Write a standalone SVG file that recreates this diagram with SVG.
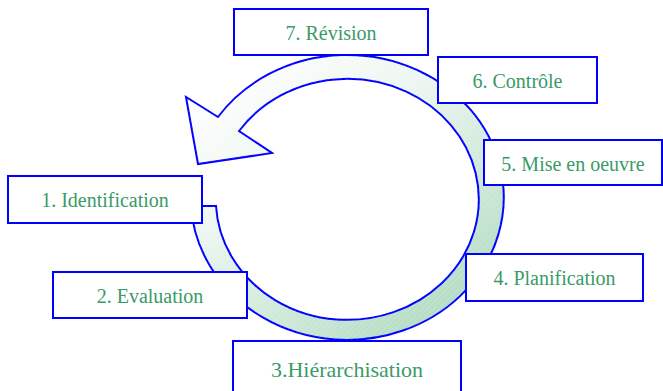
<svg xmlns="http://www.w3.org/2000/svg" width="663" height="391" viewBox="0 0 663 391">
<defs>
<linearGradient id="g" x1="0.1" y1="0.05" x2="0.85" y2="1">
<stop offset="0" stop-color="#ffffff"/>
<stop offset="0.35" stop-color="#edf6f0"/>
<stop offset="0.75" stop-color="#c6e5d2"/>
<stop offset="1" stop-color="#acd8bd"/>
</linearGradient>
<pattern id="h" width="4" height="4" patternUnits="userSpaceOnUse" patternTransform="rotate(45)">
<line x1="0" y1="0" x2="0" y2="4" stroke="#ffffff" stroke-width="0.8" stroke-opacity="0.35"/>
</pattern>
</defs>
<style>
.box{fill:#ffffff;stroke:#0000ff;stroke-width:2}
.t{font-family:'Liberation Serif','DejaVu Serif',serif;font-size:20px;fill:#3a9a68;text-anchor:middle}
.ring{stroke:#0000ff;stroke-width:2;stroke-linejoin:miter}
</style>
<g id="connectors">
<path class="ring" fill="url(#g)" d="M191,206 A156.5,142.5 0 1 0 218,117 L186,97 L198,164 L272,153 L239,131 A131.5,120.5 0 1 1 216,206 Z"/>
<path fill="url(#h)" d="M191,206 A156.5,142.5 0 1 0 218,117 L186,97 L198,164 L272,153 L239,131 A131.5,120.5 0 1 1 216,206 Z"/>
</g>
<g id="n7"><rect class="box" x="234" y="9" width="194" height="46"/><text class="t" font-family="Liberation Serif, serif" x="331" y="40">7. Révision</text></g>
<g id="n6"><rect class="box" x="438" y="57" width="159" height="46"/><text class="t" font-family="Liberation Serif, serif" x="517.5" y="88">6. Contrôle</text></g>
<g id="n5"><rect class="box" x="484" y="140" width="178" height="45"/><text class="t" font-family="Liberation Serif, serif" x="573" y="171">5. Mise en oeuvre</text></g>
<g id="n4"><rect class="box" x="466" y="254" width="177" height="47"/><text class="t" font-family="Liberation Serif, serif" x="554.5" y="285">4. Planification</text></g>
<g id="n3"><rect class="box" x="233" y="341" width="228" height="54"/><text class="t" font-family="Liberation Serif, serif" x="347" y="377" style="font-size:22px">3.Hiérarchisation</text></g>
<g id="n2"><rect class="box" x="53" y="272" width="194" height="46"/><text class="t" font-family="Liberation Serif, serif" x="150" y="303">2. Evaluation</text></g>
<g id="n1"><rect class="box" x="8" y="176" width="194" height="47"/><text class="t" font-family="Liberation Serif, serif" x="105" y="207">1. Identification</text></g>
</svg>
